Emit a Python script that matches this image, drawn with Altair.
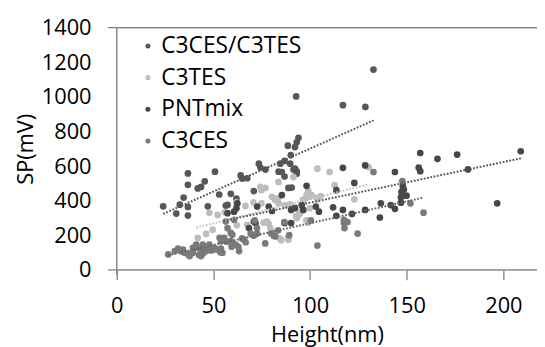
import altair as alt
import pandas as pd

series_names = ["C3CES/C3TES", "C3TES", "PNTmix", "C3CES"]
point_colors = ["#575757", "#bdbdbd", "#474747", "#7a7a7a"]
trend_colors = ["#555555", "#c4c4c4", "#555555", "#666666"]

mix_x = [24, 30.8, 32.6, 34.6, 36.8, 36.8, 36.8, 36.8, 41.9, 43.6, 45.5, 47.1, 50.8, 53, 56.4, 57.3,
         59, 61.9, 64.1, 64.9, 67.5, 70.9, 73.5, 74.3, 76.9, 83.7, 84.6, 86.8, 86.8, 88.5, 88.8, 90,
         90.5, 91.4, 92.2, 93.1, 94, 92.8, 93.1, 93.1, 117, 128.6, 132.8, 89.7, 92.2, 85.4]
mix_y = [368, 326, 377, 418, 558, 492, 364, 314, 471, 480, 512, 368, 568, 436, 372, 376,
         440, 412, 546, 528, 530, 456, 614, 592, 580, 568, 614, 630, 540, 718, 474, 664,
         476, 580, 710, 738, 764, 1003, 570, 556, 952, 942, 1158, 614, 585, 566]

tes_x = [41.9, 46.2, 47.9, 49.6, 52.2, 55.9, 61.8, 62.1, 66.6, 67.5, 70.7, 74.3, 74.8, 76.9, 76, 77.7,
         78.6, 79.4, 80.3, 80.3, 82, 83.4, 83.7, 83.7, 84.4, 85.1, 87.1, 88.5, 88.8, 89.7, 91.4, 92.8,
         93.1, 94, 94.8, 96, 96.2, 97.2, 98.2, 99.1, 99.1, 99.9, 99.9, 100.8, 103.3, 103.8, 103.8, 105.4,
         110.1, 112.7, 122.9, 130.3, 74.8, 98.1]
tes_y = [185, 208, 330, 233, 318, 333, 390, 258, 370, 261, 390, 480, 461, 474, 274, 280,
         267, 242, 223, 423, 404, 414, 509, 385, 182, 171, 375, 186, 175, 379, 537, 311,
         299, 318, 328, 347, 404, 409, 433, 274, 455, 357, 423, 433, 417, 585, 408, 427,
         566, 490, 408, 594, 385, 286]

pnt_x = [57.3, 60.7, 61.9, 62.4, 68.4, 70.9, 71.8, 72.6, 78.6, 80.3, 85.4, 86.8, 90.2, 90.2, 92.2, 95.7,
         96.5, 98.2, 103, 104.6, 111.9, 113.6, 113.6, 117, 117, 121.7, 122.9, 128.5, 128.5, 136.1, 136.6,
         141.7, 143.9, 143.9, 147, 147, 147.3, 148, 148.5, 149.9, 156.2, 157, 157, 165.9, 176.1, 181.7,
         196.8, 209]
pnt_y = [328, 337, 357, 385, 242, 280, 271, 366, 366, 341, 433, 271, 271, 347, 357, 375,
         347, 486, 366, 337, 362, 313, 461, 347, 590, 324, 503, 347, 604, 303, 385,
         375, 353, 566, 419, 389, 451, 484, 465, 429, 591, 571, 676, 642, 667, 581,
         385, 686]

ces_x = [26.6, 30, 31.7, 33.7, 34.3, 35.1, 36.9, 37.7, 39.4, 39.4, 40.8, 41.1, 42.6, 42.8, 43.6, 44.5,
         44.5, 44.5, 46.2, 46.7, 47.9, 48.7, 49.7, 50.5, 52.2, 53.6, 53.9, 53.9, 53.2, 54.7, 55.6, 56.4,
         57.3, 56.8, 59, 58.9, 59.4, 59.8, 59.8, 60.7, 60.7, 61.5, 62.9, 63.3, 64.8, 65.8, 66.7, 69.3,
         70.9, 72.6, 72.5, 71.4, 76.8, 79.9, 81.2, 82, 83.5, 86.7, 89.2, 100.4, 103.8, 117.5, 117.5,
         117.8, 119.4, 124.6, 132.8, 147.7, 151.9, 158.7]
ces_y = [90, 109, 124, 106, 118, 99, 91, 80, 128, 99, 129, 147, 87, 124, 80, 147,
         118, 94, 109, 121, 147, 113, 116, 128, 118, 102, 124, 166, 186, 99, 185, 280,
         242, 163, 214, 167, 134, 157, 204, 147, 290, 147, 134, 109, 182, 175, 160, 210,
         198, 210, 242, 286, 153, 210, 198, 194, 229, 277, 201, 286, 141, 290, 271,
         242, 277, 210, 566, 514, 385, 331]

# trendline end points (start x, start y, end x, end y) per series
trend_x0 = [24, 41, 55, 26.5]
trend_y0 = [324, 244, 283, 85]
trend_x1 = [132.8, 130, 209, 158.7]
trend_y1 = [864, 494, 645, 418]

xs = [mix_x, tes_x, pnt_x, ces_x]
ys = [mix_y, tes_y, pnt_y, ces_y]
rows = []
for name, sx, sy in zip(series_names, xs, ys):
    for a, b in zip(sx, sy):
        rows.append({"Series": name, "Height": a, "SP": b})
df = pd.DataFrame(rows)

trows = []
for name, a0, b0, a1, b1 in zip(series_names, trend_x0, trend_y0, trend_x1, trend_y1):
    trows.append({"Series": name, "Height": a0, "SP": b0})
    trows.append({"Series": name, "Height": a1, "SP": b1})
tdf = pd.DataFrame(trows)

W, H = 425, 245
axis_col = "#808080"
FONT = "Open Sans"

x_enc = alt.X("Height:Q",
              scale=alt.Scale(domain=[0, 217.4], nice=False, zero=False),
              axis=alt.Axis(values=[0, 50, 100, 150, 200], title="Height(nm)", grid=False, domain=False,
                            tickSize=10, tickColor=axis_col, tickWidth=1.3, labelFontSize=22,
                            labelPadding=16, labelColor="black", labelFlush=False, labelFont=FONT,
                            titleFont=FONT, titleFontSize=22, titleFontWeight="normal",
                            titleColor="black", titlePadding=8, format="d"))
y_enc = alt.Y("SP:Q",
              scale=alt.Scale(domain=[0, 1400], nice=False),
              axis=alt.Axis(values=list(range(0, 1401, 200)), title="SP(mV)", grid=False, domain=False,
                            tickSize=0, labelFontSize=22, labelPadding=26, labelColor="black",
                            labelFont=FONT, titleFont=FONT, titleFontSize=22, titleFontWeight="normal",
                            titleColor="black", titlePadding=4, format="d"))

hrule = alt.Chart(pd.DataFrame({"SP": [0, 1400]})).mark_rule(color=axis_col, strokeWidth=1.3).encode(
    y=y_enc, x=alt.value(-9), x2=alt.value(W))
vrule = alt.Chart(pd.DataFrame({"SP": [1400]})).mark_rule(color=axis_col, strokeWidth=1.3).encode(
    y=y_enc, y2=alt.value(H + 5), x=alt.value(0))

points = alt.Chart(df).mark_circle(size=46, opacity=1).encode(
    x=x_enc, y=y_enc,
    color=alt.Color("Series:N", sort=series_names,
                    scale=alt.Scale(domain=series_names, range=point_colors),
                    legend=alt.Legend(title=None, orient="none", legendX=20, legendY=7, padding=0,
                                      symbolSize=26, symbolType="circle", symbolStrokeWidth=0,
                                      labelFontSize=23, labelFont=FONT, labelColor="black",
                                      labelLimit=400, rowPadding=8, labelOffset=2)))

trend = alt.Chart(tdf).mark_line(strokeDash=[1.8, 1.6], strokeWidth=2).encode(
    x=x_enc, y=y_enc, detail="Series:N",
    color=alt.Color("Series:N", scale=alt.Scale(domain=series_names, range=trend_colors), legend=None))

chart = alt.layer(hrule, vrule, points, trend).resolve_scale(color="independent").properties(
    width=W, height=H,
    padding={"left": 110, "top": 18, "right": 0, "bottom": 76},
    autosize=alt.AutoSizeParams(type="none"),
).configure_view(stroke=None).configure(font=FONT)

chart.save("out.html", embed_options={"renderer": "svg", "actions": False})
